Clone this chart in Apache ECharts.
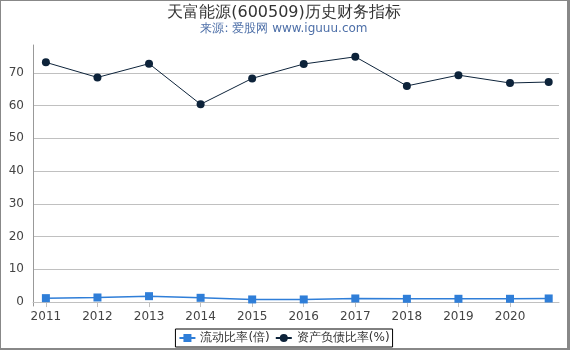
<!DOCTYPE html>
<html><head><meta charset="utf-8">
<script src="https://cdn.jsdelivr.net/npm/echarts@6/dist/echarts.min.js"></script>
<style>
html,body{margin:0;padding:0;background:#fff;}
#wrap{position:absolute;left:0;top:0;width:566px;height:347px;border-left:1px solid #888;border-top:1px solid #888;border-right:3px solid #888;border-bottom:2px solid #888;}
#c{width:566px;height:347px;}
</style></head>
<body><div id="wrap"><div id="c"></div></div>
<script>
const years = [2011, 2012, 2013, 2014, 2015, 2016, 2017, 2018, 2019, 2020, 2020.75];
const currentRatio = [1.2, 1.4, 1.8, 1.3, 0.8, 0.8, 1.1, 1.0, 1.0, 1.0, 1.1];
const debtRatio = [73.2, 68.6, 72.8, 60.4, 68.3, 72.7, 74.9, 66.0, 69.3, 66.9, 67.2];
const xTicks = [2011, 2012, 2013, 2014, 2015, 2016, 2017, 2018, 2019, 2020];
const yTicks = [0, 10, 20, 30, 40, 50, 60, 70];
const titleText = '天富能源(600509)历史财务指标';
const subText = '来源: 爱股网 www.iguuu.com';
const seriesNames = ['流动比率(倍)', '资产负债比率(%)'];

const chart = echarts.init(document.getElementById('c'), null, {renderer:'canvas'});
const font = 'DejaVu Sans';
chart.setOption({
  animation:false,
  textStyle:{fontFamily:font},
  title:{text:titleText, subtext:subText, left:'center', top:-1,
    textStyle:{fontFamily:font, fontSize:16, fontWeight:'normal', color:'#333'},
    subtextStyle:{fontFamily:font, fontSize:12, color:'#4d6fa8'}, itemGap:2},
  grid:{left:32, right:8, top:44, bottom:42},
  legend:{bottom:1, left:'center', borderColor:'#000', borderWidth:1, padding:[3,3], itemGap:5,
    itemWidth:16, itemHeight:10, textStyle:{fontFamily:font, fontSize:12, color:'#333'},
    data:seriesNames},
  xAxis:{type:'value', min:2010.75, max:2020.95,
    axisLine:{lineStyle:{color:'#c0c0c0'}},
    axisTick:{show:true, customValues:xTicks, length:5, lineStyle:{color:'#c0c0c0'}},
    axisLabel:{customValues:xTicks, color:'#444', fontSize:12, fontFamily:font, margin:5, formatter:v=>String(v)},
    splitLine:{show:false}},
  yAxis:{type:'value', min:-1.2, max:78.5,
    axisLine:{show:true, lineStyle:{color:'#999'}},
    axisTick:{show:false, customValues:yTicks},
    axisLabel:{customValues:yTicks, color:'#444', fontSize:12, fontFamily:font, margin:9},
    splitLine:{show:true, lineStyle:{color:'#c0c0c0'}}},
  series:[
    {name:seriesNames[0], type:'line', data:years.map((y,i)=>[y,currentRatio[i]]),
     symbol:'rect', symbolSize:8, itemStyle:{color:'#2f7ed8'}, lineStyle:{color:'#2f7ed8', width:1.5}},
    {name:seriesNames[1], type:'line', data:years.map((y,i)=>[y,debtRatio[i]]),
     symbol:'circle', symbolSize:8, itemStyle:{color:'#0d233a'}, lineStyle:{color:'#0d233a', width:1}}
  ]
});
</script></body></html>
